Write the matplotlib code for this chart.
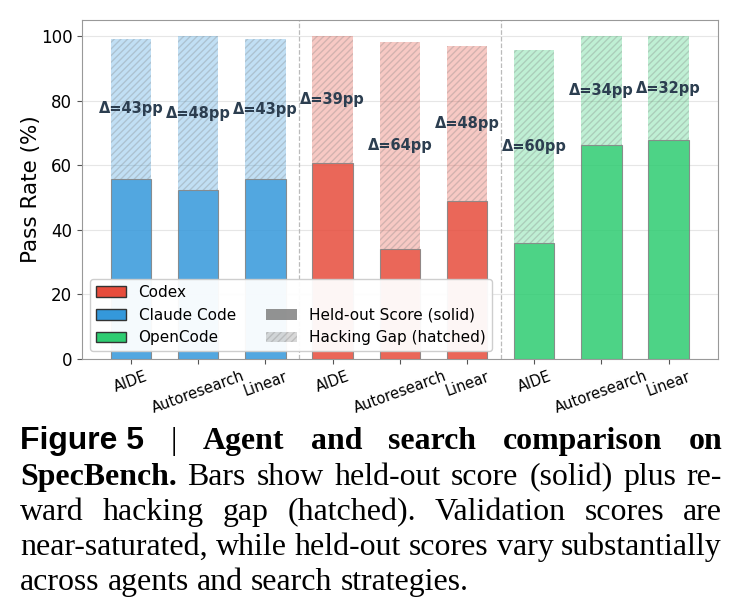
import numpy as np
import matplotlib
matplotlib.use("Agg")
import matplotlib.pyplot as plt
from matplotlib.patches import Patch

# Data
agents = ["Claude Code", "Codex", "OpenCode"]
strategies = ["AIDE", "Autoresearch", "Linear"]
agent_colors = {"Codex": "#e74c3c", "Claude Code": "#3498db", "OpenCode": "#2ecc71"}
legend_agents = ["Codex", "Claude Code", "OpenCode"]

held_out = [55.9, 52.2, 55.7, 60.6, 34.0, 49.0, 35.8, 66.2, 67.7]
validation = [99.2, 100.0, 99.0, 100.0, 98.3, 97.0, 95.8, 100.0, 100.0]

caption = [
    [("Figure 5", "sansbold"), ("|", "serif"), ("Agent", "serifbold"), ("and", "serifbold"),
     ("search", "serifbold"), ("comparison", "serifbold"), ("on", "serifbold")],
    [("SpecBench.", "serifbold"), ("Bars", "serif"), ("show", "serif"), ("held-out", "serif"),
     ("score", "serif"), ("(solid)", "serif"), ("plus", "serif"), ("re-", "serif")],
    [(w, "serif") for w in "ward hacking gap (hatched). Validation scores are".split()],
    [(w, "serif") for w in "near-saturated, while held-out scores vary substantially".split()],
    [(w, "serif") for w in "across agents and search strategies.".split()],
]


def main():
    W, H = 743, 612
    fig = plt.figure(figsize=(W / 100, H / 100), dpi=100)
    ax = fig.add_axes([82 / W, 1 - 359 / H, (717.7 - 82) / W, (359 - 20) / H])

    x = np.arange(len(held_out))
    colors = [agent_colors[a] for a in agents for _ in strategies]
    held = np.array(held_out)
    gap = np.array(validation) - held

    ax.bar(x, held, 0.6, color=colors, alpha=0.85, edgecolor="gray",
           linewidth=0.8, zorder=3)
    ax.bar(x, gap, 0.6, bottom=held, color=colors, alpha=0.3, edgecolor="gray",
           hatch="/////", linewidth=0, zorder=3)

    for xi, h, g in zip(x, held, gap):
        ax.text(xi, h + g / 2, f"Δ={round(g)}pp", ha="center", va="center",
                fontsize=10.5, fontweight="bold", color="#2c3e50", zorder=4)

    for sep in [2.5, 5.5]:
        ax.axvline(sep, color="#bbbbbb", linestyle="--", linewidth=0.9, zorder=1)

    ax.set_ylim(0, 105)
    ax.set_yticks([0, 20, 40, 60, 80, 100])
    ax.set_xticks(x)
    ax.set_xticklabels(strategies * len(agents), rotation=20, fontsize=10.5)
    ax.tick_params(axis="y", labelsize=12)
    ax.tick_params(colors="#555555", labelcolor="black")
    ax.set_ylabel("Pass Rate (%)", fontsize=15.5, labelpad=0)
    ax.yaxis.grid(True, color="#e6e6e6", linewidth=0.8, zorder=0)
    ax.set_axisbelow(True)
    for s in ax.spines.values():
        s.set_color("#999999")

    handles = [Patch(facecolor=agent_colors[a], edgecolor="#333333", label=a)
               for a in legend_agents]
    handles.append(Patch(facecolor="none", edgecolor="none", label=" "))
    handles.append(Patch(facecolor="gray", alpha=0.85, linewidth=0,
                         label="Held-out Score (solid)"))
    handles.append(Patch(facecolor="gray", edgecolor="gray", alpha=0.3, hatch="/////",
                         linewidth=0, label="Hacking Gap (hatched)"))
    ax.legend(handles=handles, loc="lower left", ncol=2, fontsize=11, framealpha=0.95)

    # ----- caption, justified word by word -----
    styles = {
        "serif": dict(family="Liberation Serif"),
        "serifbold": dict(family="Liberation Serif", weight="bold"),
        "sansbold": dict(family="Liberation Sans", weight="bold"),
    }
    renderer = fig.canvas.get_renderer()
    x0, x1 = 20, 722
    baselines = [449, 485, 520, 555, 590]

    def measure(words, size):
        ws = []
        for word, st in words:
            t = fig.text(0, 0, word, fontsize=size, **styles[st])
            ws.append(t.get_window_extent(renderer).width)
            t.remove()
        return ws

    # fit the size so the tightest line fills the column
    probe = 20
    ws = measure(caption[3], probe)
    natural = sum(ws) + 0.25 * probe * 100 / 72 * (len(ws) - 1)
    size = probe * (x1 - x0) / natural

    for i, (words, yb) in enumerate(zip(caption, baselines)):
        ws = measure(words, size)
        if i < len(caption) - 1:
            space = (x1 - x0 - sum(ws)) / (len(ws) - 1)
        else:
            space = 0.25 * size * 100 / 72
        xp = x0
        for (word, st), w in zip(words, ws):
            fig.text(xp / W, 1 - yb / H, word, fontsize=size, va="baseline",
                     ha="left", **styles[st])
            xp += w + space

    fig.savefig("out.png", dpi=100)


if __name__ == "__main__":
    main()
